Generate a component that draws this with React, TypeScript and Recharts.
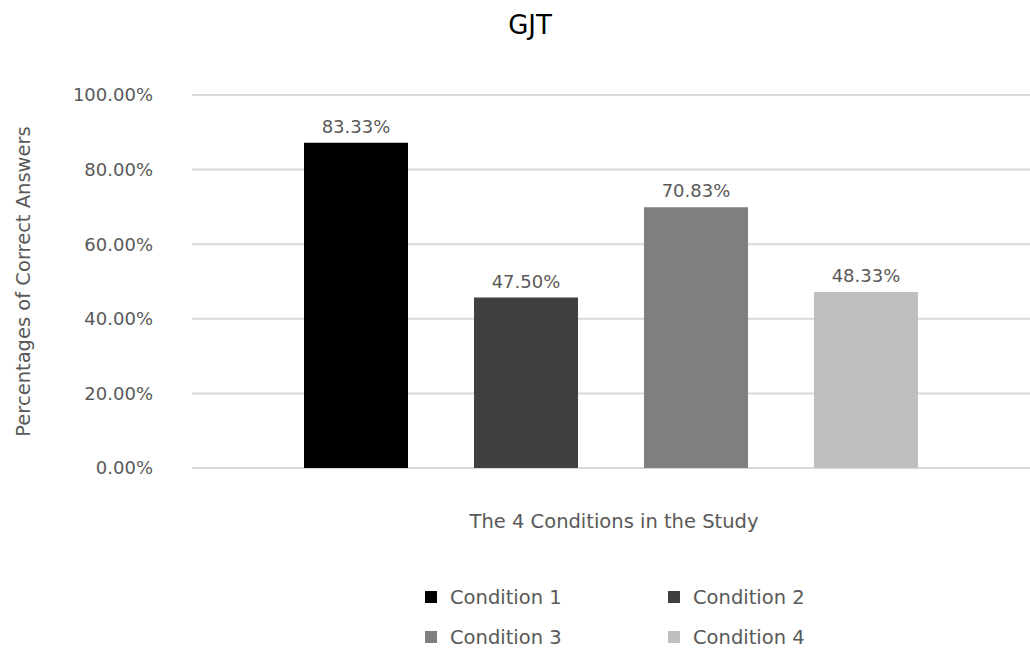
import React from 'react';
import { BarChart, Bar, XAxis, YAxis, CartesianGrid, Legend, LabelList } from 'recharts';

// one category, four series (one per condition)
const categories = ['GJT'];
const seriesNames = ['Condition 1', 'Condition 2', 'Condition 3', 'Condition 4'];
const seriesKeys = ['c1', 'c2', 'c3', 'c4'];
// bar heights as drawn in the picture (percent)
const seriesValues = [87.2, 45.7, 69.9, 47.2];
// data label text printed above each bar
const valueLabels = ['83.33%', '47.50%', '70.83%', '48.33%'];
const seriesColors = ['#000000', '#404040', '#7f7f7f', '#bfbfbf'];
const yTicks = [0, 20, 40, 60, 80, 100];

const data = categories.map(name => {
  const row: Record<string, string | number> = { name };
  seriesKeys.forEach((k, i) => { row[k] = seriesValues[i]; });
  return row;
});

const FONT = '"DejaVu Sans", sans-serif';
const TEXT = '#595959';
const FS = 18; // numbers
const FS_TXT = 19.5; // words

const LegendGrid = () => (
  <div style={{ display: 'grid', gridTemplateColumns: '243px 243px', rowGap: 16, fontFamily: FONT, fontSize: FS_TXT, color: TEXT }}>
    {seriesNames.map((n, i) => (
      <div key={n} style={{ display: 'flex', alignItems: 'center', height: 24 }}>
        <span style={{ width: 12, height: 12, background: seriesColors[i], display: 'inline-block', marginRight: 13 }} />
        {n}
      </div>
    ))}
  </div>
);

const App: React.FC = () => {
  return (
    <div style={{ position: 'absolute', left: 0, top: 0, width: 1030, height: 650, overflow: 'hidden', background: '#fff' }}>
      <div style={{ position: 'absolute', top: 10, left: 0, width: 1060, textAlign: 'center', fontFamily: FONT, fontSize: 26, color: '#000' }}>
        GJT
      </div>
      <BarChart
        width={1030}
        height={650}
        data={data}
        margin={{ top: 95, right: 0, bottom: 0, left: 0 }}
        barGap={66}
      >
        <CartesianGrid vertical={false} stroke="#d9d9d9" strokeWidth={2} />
        <XAxis
          dataKey="name"
          height={182}
          tick={false}
          axisLine={false}
          tickLine={false}
          label={{
            content: (p: any) => {
              const vb = p.viewBox;
              return (
                <text x={614} y={vb.y + 60} textAnchor="middle" fontFamily={FONT} fontSize={FS_TXT} fill={TEXT}>
                  The 4 Conditions in the Study
                </text>
              );
            },
          }}
        />
        <YAxis
          width={192}
          domain={[0, 100]}
          ticks={yTicks}
          interval={0}
          axisLine={false}
          tickLine={false}
          tickSize={0}
          tickMargin={39}
          tickFormatter={(v: number) => `${v.toFixed(2)}%`}
          tick={{ fontFamily: FONT, fontSize: FS, fill: TEXT }}
          label={{
            content: (p: any) => {
              const vb = p.viewBox;
              const cy = vb.y + vb.height / 2;
              return (
                <text x={30} y={cy} transform={`rotate(-90, 30, ${cy})`} textAnchor="middle" fontFamily={FONT} fontSize={FS_TXT} fill={TEXT}>
                  Percentages of Correct Answers
                </text>
              );
            },
          }}
        />
        <Legend
          layout="horizontal"
          verticalAlign="middle"
          align="center"
          content={() => <LegendGrid />}
          wrapperStyle={{ position: 'absolute', left: 425, top: 585, width: 520 }}
        />
        {seriesKeys.map((k, i) => (
          <Bar key={k} dataKey={k} name={seriesNames[i]} fill={seriesColors[i]} barSize={104} isAnimationActive={false}>
            <LabelList
              dataKey={k}
              position="top"
              offset={10}
              formatter={() => valueLabels[i]}
              style={{ fontFamily: FONT, fontSize: FS, fill: TEXT }}
            />
          </Bar>
        ))}
      </BarChart>
    </div>
  );
};

export default App;
